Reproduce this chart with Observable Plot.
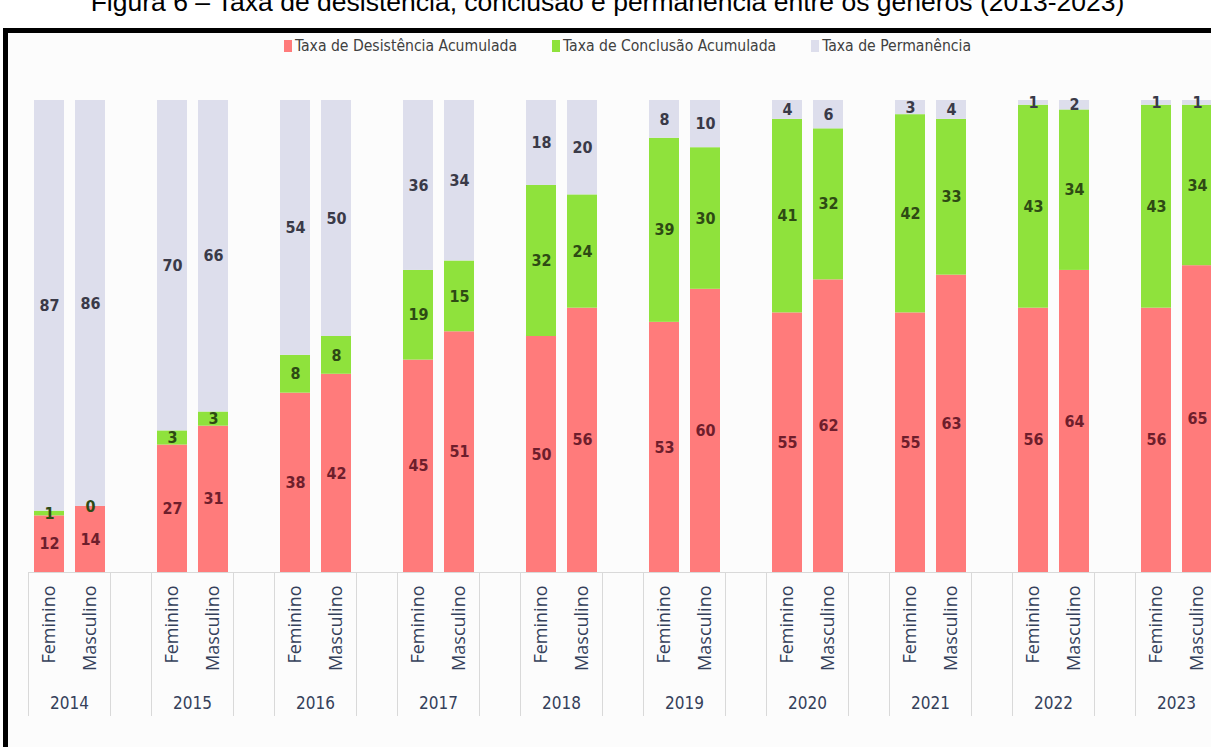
<!DOCTYPE html>
<html>
<head>
<meta charset="utf-8">
<script src="https://cdn.jsdelivr.net/npm/d3@7"></script>
<script src="https://cdn.jsdelivr.net/npm/@observablehq/plot@0.6"></script>
<style>
  html, body { margin: 0; padding: 0; }
  body { width: 1211px; height: 747px; overflow: hidden; position: relative; background: #fff; }
  #title { position: absolute; top: -13px; left: 0; width: 1215px; text-align: center;
    font-family: "Liberation Sans", Arial, sans-serif; font-size: 26.5px; line-height: 30px; color: #000; white-space: nowrap; }
  #frame { position: absolute; left: 3px; top: 28px; width: 1300px; height: 800px;
    border-left: 5px solid #000; border-top: 5px solid #000; background: #fcfcfc; }
  #legend { position: absolute; left: 284px; top: 37px; display: flex; gap: 35px;
    font-family: "Liberation Sans Narrow", "DejaVu Sans Condensed", sans-serif; font-size: 15.6px; color: #404040; }
  #legend .item { display: flex; align-items: center; gap: 3px; }
  #legend .sw { width: 8px; height: 12px; display: inline-block; }
  #chart { position: absolute; left: 0; top: 60px; }
  #chart svg { max-width: none !important; }
</style>
</head>
<body>
<div id="title"></div>
<div id="frame"></div>
<div id="legend"></div>
<div id="chart"></div>
<script>
const titleText = "Figura 6 – Taxa de desistência, conclusão e permanência entre os gêneros (2013-2023)";
const years = ["2014", "2015", "2016", "2017", "2018", "2019", "2020", "2021", "2022", "2023"];
const genders = ["Feminino", "Masculino"];
const seriesNames = ["Taxa de Desistência Acumulada", "Taxa de Conclusão Acumulada", "Taxa de Permanência"];
const seriesColors = ["#ff7b7b", "#8fe23c", "#dddeec"];
const labelColors = ["#6e1e2c", "#2e4a14", "#3a3a48"];

const desistFeminino  = [12, 27, 38, 45, 50, 53, 55, 55, 56, 56];
const desistMasculino = [14, 31, 42, 51, 56, 60, 62, 63, 64, 65];
const conclFeminino   = [1, 3, 8, 19, 32, 39, 41, 42, 43, 43];
const conclMasculino  = [0, 3, 8, 15, 24, 30, 32, 33, 34, 34];
const permFeminino    = [87, 70, 54, 36, 18, 8, 4, 3, 1, 1];
const permMasculino   = [86, 66, 50, 34, 20, 10, 6, 4, 2, 1];

document.getElementById("title").textContent = titleText;

const legend = document.getElementById("legend");
seriesNames.forEach((s, i) => {
  const it = document.createElement("div");
  it.className = "item";
  const sw = document.createElement("span");
  sw.className = "sw";
  sw.style.background = seriesColors[i];
  const tx = document.createElement("span");
  tx.textContent = s;
  it.appendChild(sw); it.appendChild(tx);
  legend.appendChild(it);
});

const bySeries = [
  [desistFeminino, desistMasculino],
  [conclFeminino, conclMasculino],
  [permFeminino, permMasculino]
];
const rows = [];
years.forEach((y, yi) => {
  genders.forEach((g, gi) => {
    seriesNames.forEach((s, si) => {
      rows.push({year: y, gender: g, series: s, value: bySeries[si][gi][yi]});
    });
  });
});

const labelFont = "'Liberation Sans Narrow', 'DejaVu Sans Condensed', sans-serif";

const textMarks = seriesNames.map((s, si) =>
  Plot.text(rows, Plot.stackY({
    fx: "year", x: "gender", y: "value", z: "series", order: seriesNames,
    text: d => d.series === s ? String(d.value) : null,
    fill: labelColors[si], fontWeight: "bold", fontSize: 16, fontFamily: labelFont
  }))
);

const chart = Plot.plot({
  width: 1240,
  height: 687,
  marginLeft: 28,
  marginRight: 17,
  marginTop: 40,
  marginBottom: 175,
  fx: {domain: years, paddingInner: 0.333, paddingOuter: 0, align: 0, label: null, axis: null},
  x: {domain: genders, paddingInner: 0.28, paddingOuter: 0.14, label: null, axis: null},
  y: {domain: [0, 100], axis: null},
  color: {domain: seriesNames, range: seriesColors},
  marks: [
    Plot.frame({anchor: "left", stroke: "#d9d9d9", insetTop: 472, insetBottom: -143}),
    Plot.frame({anchor: "right", stroke: "#d9d9d9", insetTop: 472, insetBottom: -143}),
    Plot.barY(rows, {fx: "year", x: "gender", y: "value", fill: "series", order: seriesNames}),
    ...textMarks,
    Plot.ruleY([0], {stroke: "#d9d9d9", insetRight: -42}),
    Plot.axisX({anchor: "bottom", tickSize: 0, tickPadding: 13, tickRotate: -90, label: null,
      fontSize: 18, fontFamily: "'Open Sans', sans-serif", fill: "#34405a"}),
    Plot.axisFx({anchor: "bottom", tickSize: 0, tickPadding: 124, label: null,
      fontSize: 17, fontFamily: labelFont, fill: "#34405a"})
  ]
});
chart.style.maxWidth = "none";
document.getElementById("chart").appendChild(chart);
</script>
</body>
</html>
